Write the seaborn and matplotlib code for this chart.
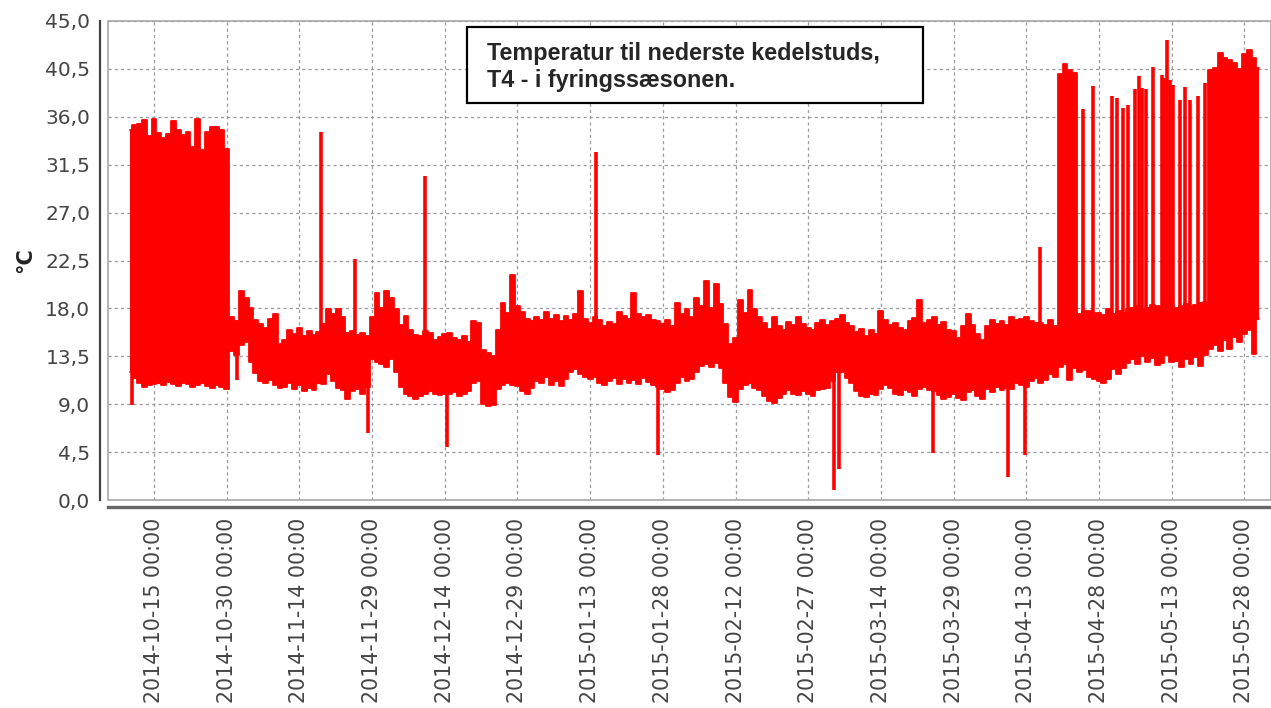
import numpy as np
import pandas as pd
import matplotlib
matplotlib.use("Agg")
import matplotlib.pyplot as plt
import matplotlib.dates as mdates
from matplotlib.patches import Rectangle
from matplotlib.ticker import FuncFormatter
import seaborn as sns

# ---------------- data ----------------
START = "2014-10-10"   # first day of the series, one envelope value per day

# daily upper envelope of the temperature band (deg C), 2014-10-10 .. 2015-05-31
band_high = [
    34.8, 35.2, 35.3, 35.7, 34.2, 35.8, 34.5, 34.0, 34.4, 35.6,
    34.8, 34.3, 34.6, 33.2, 35.8, 32.9, 34.6, 35.0, 35.0, 34.8,
    33.0, 17.2, 16.8, 19.6, 19.0, 18.0, 16.9, 16.5, 16.2, 17.0,
    17.5, 14.7, 15.0, 16.0, 15.6, 16.2, 15.4, 15.9, 15.5, 15.8,
    16.5, 17.9, 17.5, 17.9, 17.2, 15.7, 15.9, 15.5, 15.7, 15.4,
    17.2, 19.4, 18.0, 19.6, 19.0, 17.9, 16.4, 17.3, 16.0, 15.5,
    15.4, 15.9, 15.7, 15.0, 15.3, 15.6, 15.7, 15.2, 15.0, 15.4,
    14.8, 16.8, 16.6, 14.1, 13.8, 13.5, 16.0, 18.5, 17.6, 21.1,
    18.2, 17.7, 17.0, 16.8, 17.2, 16.9, 17.7, 17.0, 17.4, 16.8,
    17.3, 16.9, 17.5, 19.6, 17.0, 16.6, 17.2, 16.9, 16.3, 16.7,
    16.5, 17.7, 17.3, 17.0, 19.4, 17.5, 17.2, 17.4, 16.9, 16.8,
    16.5, 16.9, 16.3, 18.5, 17.5, 17.9, 17.2, 19.0, 18.2, 20.6,
    18.0, 20.3, 18.4, 16.5, 14.7, 15.2, 18.8, 17.6, 19.7, 17.9,
    17.2, 16.6, 16.1, 17.2, 16.3, 16.0, 16.7, 16.4, 17.2, 16.5,
    16.2, 16.0, 16.6, 16.9, 16.4, 16.8, 17.0, 17.4, 16.6, 16.3,
    15.8, 16.1, 15.4, 16.0, 15.6, 17.8, 16.9, 16.4, 16.6, 16.2,
    16.0, 16.8, 17.1, 18.8, 16.6, 16.9, 17.2, 16.4, 16.7, 16.0,
    15.9, 15.2, 16.3, 17.5, 16.4, 15.6, 15.0, 16.3, 16.9, 16.5,
    16.8, 16.4, 17.2, 16.9, 17.0, 17.2, 16.8, 16.6, 16.6, 16.4,
    16.9, 16.3, 40.0, 41.0, 40.4, 40.1, 17.5, 17.8, 17.8, 17.6,
    17.6, 17.4, 17.9, 17.5, 17.8, 17.6, 17.9, 18.0, 18.2, 17.9,
    18.0, 18.3, 18.2, 18.0, 18.4, 18.1, 18.0, 18.2, 18.4, 18.2,
    18.3, 18.5, 18.6, 40.4, 40.6, 42.0, 41.5, 41.3, 41.1, 40.5,
    41.9, 42.3, 41.5, 40.6,
]

# daily lower envelope of the temperature band (deg C)
band_low = [
    12.0, 11.5, 11.0, 10.6, 10.8, 10.9, 11.0, 10.8, 11.1, 10.9,
    10.7, 11.0, 10.9, 10.6, 10.8, 11.0, 10.7, 10.5, 10.8, 10.6,
    10.4, 14.0, 13.6, 14.6, 14.8, 13.0, 11.9, 11.2, 11.0, 11.3,
    10.8, 10.5, 10.6, 11.0, 10.4, 10.8, 10.2, 10.5, 10.3, 11.0,
    10.9, 11.8, 11.2, 10.5, 10.3, 9.5, 10.2, 10.4, 10.0, 10.6,
    13.2, 13.0, 12.8, 12.5, 13.2, 12.0, 10.6, 10.0, 9.8, 9.5,
    9.8, 10.0, 10.2, 10.0, 9.9, 10.0, 10.0, 10.1, 9.8, 10.0,
    10.2, 11.0, 11.2, 9.0, 8.8, 8.9, 10.4, 10.8, 11.0, 10.8,
    10.7, 10.2, 10.0, 10.5, 11.2, 11.0, 11.6, 10.8, 11.2, 10.7,
    11.4, 12.0, 12.3, 11.8, 11.6, 11.4, 11.6, 11.0, 10.8, 11.2,
    11.5, 10.9, 11.4, 11.0, 11.3, 10.9, 11.5, 11.1, 10.8, 10.6,
    10.4, 10.1, 10.3, 11.0, 11.6, 11.2, 11.4, 12.0, 12.6, 12.8,
    12.5, 12.9, 12.4, 11.0, 9.7, 9.2, 10.4, 10.8, 11.0, 10.5,
    10.3, 9.8, 9.3, 9.1, 9.6, 10.0, 10.3, 10.0, 9.9, 10.2,
    10.0, 9.8, 10.3, 10.4, 10.5, 11.2, 12.0, 12.0, 11.5, 11.0,
    10.2, 9.8, 9.7, 10.0, 9.9, 10.4, 10.8, 10.5, 10.0, 9.9,
    10.3, 10.1, 9.8, 10.4, 10.6, 10.3, 10.2, 9.9, 9.5, 9.7,
    10.0, 9.6, 9.4, 10.1, 10.3, 9.8, 9.5, 10.4, 10.1, 10.6,
    10.3, 10.5, 10.4, 11.0, 10.8, 10.6, 11.2, 11.5, 11.0, 11.3,
    11.8, 11.6, 12.5, 12.8, 11.3, 12.4, 12.0, 12.2, 11.6, 11.4,
    11.2, 11.0, 11.4, 12.3, 11.8, 12.4, 12.9, 13.2, 12.8, 13.5,
    13.0, 13.3, 12.7, 12.9, 13.6, 13.0, 13.1, 12.5, 13.2, 12.8,
    13.4, 12.6, 13.6, 14.2, 14.6, 14.0, 15.0, 14.2, 15.3, 14.8,
    15.6, 16.0, 13.7, 17.0,
]

# single short excursions (spikes) outside the band
spike_times = [
    "2014-10-10 10:00", "2014-11-01 05:00", "2014-11-18 10:00", "2014-11-25 10:00",
    "2014-11-28 02:00", "2014-12-10 00:00", "2014-12-14 12:00", "2015-01-14 05:00",
    "2015-01-27 02:00", "2015-03-04 07:00", "2015-03-05 10:00", "2015-03-24 17:00",
    "2015-04-09 05:00", "2015-04-12 17:00", "2015-04-15 19:00", "2015-04-24 19:00",
    "2015-04-26 19:00", "2015-04-30 17:00", "2015-05-01 19:00", "2015-05-03 00:00",
    "2015-05-04 00:00", "2015-05-05 10:00", "2015-05-06 05:00", "2015-05-06 19:00",
    "2015-05-07 19:00", "2015-05-09 05:00", "2015-05-10 22:00", "2015-05-11 12:00",
    "2015-05-12 00:00", "2015-05-12 14:00", "2015-05-13 05:00", "2015-05-14 17:00",
    "2015-05-15 19:00", "2015-05-16 19:00", "2015-05-18 12:00", "2015-05-19 22:00",
]
spike_values = [
    8.9, 11.3, 34.6, 22.6,
    6.3, 30.4, 5.0, 32.7,
    4.2, 0.9, 2.9, 4.4,
    2.2, 4.2, 23.8, 36.7,
    38.9, 38.0, 37.8, 36.8,
    37.1, 38.6, 39.8, 38.7,
    38.6, 40.7, 39.9, 39.6,
    43.2, 39.5, 39.0, 37.6,
    38.8, 37.6, 38.0, 39.2,
]

x_tick_dates = [
    "2014-10-15", "2014-10-30", "2014-11-14", "2014-11-29", "2014-12-14",
    "2014-12-29", "2015-01-13", "2015-01-28", "2015-02-12", "2015-02-27",
    "2015-03-14", "2015-03-29", "2015-04-13", "2015-04-28", "2015-05-13",
    "2015-05-28",
]
y_ticks = [0.0, 4.5, 9.0, 13.5, 18.0, 22.5, 27.0, 31.5, 36.0, 40.5, 45.0]
title_lines = ["Temperatur til nederste kedelstuds,", "T4 - i fyringssæsonen."]
y_label = "°C"

# ---------------- style ----------------
sns.set_style("white")
plt.rcParams["font.family"] = ["DejaVu Sans"]
RED = "#ff0000"
W, H = 1271, 708

days = pd.date_range(START, periods=len(band_high), freq="D")
n = len(days)
df = pd.DataFrame({
    "time": np.concatenate([days.values, days.values]),
    "temp": list(band_high) + list(band_low),
    "edge": ["high"] * n + ["low"] * n,
})

fig = plt.figure(figsize=(W / 100, H / 100), dpi=100)
ax = fig.add_axes([108 / W, 208 / H, (W - 108) / W, 479 / H])

# solid band between the envelopes
ax.fill_between(days, band_low, band_high, step="mid", color=RED, linewidth=0, zorder=2)
# envelope edges drawn as lines
sns.lineplot(data=df, x="time", y="temp", hue="edge",
             palette={"high": RED, "low": RED}, linewidth=1.3,
             drawstyle="steps-mid", estimator=None, sort=False,
             legend=False, ax=ax, zorder=3)

# spikes
sp_t = pd.to_datetime(spike_times)
mid = np.interp(sp_t.asi8, days.asi8,
                (np.array(band_low) + np.array(band_high)) / 2.0)
ax.vlines(sp_t, mid, spike_values, colors=RED, linewidth=2.6, zorder=3)

# axes ranges and ticks
ax.set_xlim(pd.Timestamp("2014-10-05 12:00"), pd.Timestamp("2015-06-02 12:00"))
ax.set_ylim(0, 45)
ax.set_yticks(y_ticks)
ax.yaxis.set_major_formatter(FuncFormatter(lambda v, p: f"{v:.1f}".replace(".", ",")))
ax.set_xticks(pd.to_datetime(x_tick_dates))
ax.xaxis.set_major_formatter(mdates.DateFormatter("%Y-%m-%d %H:%M"))
ax.tick_params(axis="x", rotation=90, labelsize=14.8, labelcolor="#444444",
               length=4, width=1.0, color="#666666", pad=4)
ax.tick_params(axis="y", labelsize=14.5, labelcolor="#444444",
               length=4, width=1.2, color="#444444", pad=3)
ax.set_xlabel("")

# grid
ax.grid(True, color="#9a9a9a", linestyle=(0, (2.5, 2.5)), linewidth=0.9)
ax.set_axisbelow(True)

# offset axis lines + light plot-area border
sns.despine(ax=ax, offset={"left": 5.8, "bottom": 5.0})
ax.spines["left"].set_color("#444444")
ax.spines["left"].set_linewidth(1.6)
ax.spines["bottom"].set_color("#666666")
ax.spines["bottom"].set_linewidth(2.4)
ax.add_patch(Rectangle((0, 0), 1, 1, transform=ax.transAxes, fill=False,
                       edgecolor="#a8a8a8", linewidth=1.2, zorder=4, clip_on=False))

ax.set_ylabel(y_label, fontsize=15, fontweight="bold", color="#222222")
ax.yaxis.set_label_coords(-0.0625, 0.5)

# title box
fig.add_artist(Rectangle((467 / W, 1 - 103 / H), 456 / W, 76 / H,
                         transform=fig.transFigure, facecolor="white",
                         edgecolor="black", linewidth=1.6, zorder=5))
fig.text(487 / W, 1 - 60 / H, title_lines[0], fontsize=16.8, fontweight="bold",
         family=["Liberation Sans", "DejaVu Sans"], va="baseline", ha="left", zorder=6)
fig.text(487 / W, 1 - 87 / H, title_lines[1], fontsize=16.8, fontweight="bold",
         family=["Liberation Sans", "DejaVu Sans"], va="baseline", ha="left", zorder=6)

fig.savefig("out.png", dpi=100)
